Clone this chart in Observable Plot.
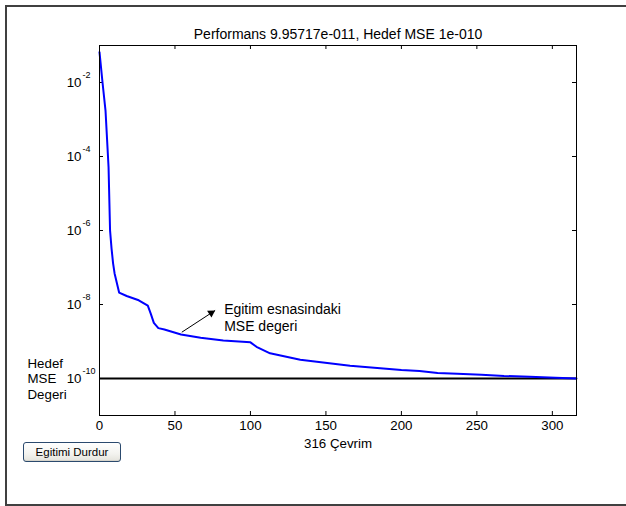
<!DOCTYPE html>
<html>
<head>
<meta charset="utf-8">
<script src="https://cdn.jsdelivr.net/npm/d3@7"></script>
<script src="https://cdn.jsdelivr.net/npm/@observablehq/plot@0.6"></script>
<style>
  html, body { margin: 0; padding: 0; background: #fff; overflow: hidden; }
  body { width: 626px; height: 506px; position: relative;
         font-family: "Liberation Sans", Arial, sans-serif; }
  #panel { position: absolute; left: 5px; top: 5px; width: 619px; height: 497px;
           border: 2px solid #404040; border-right: none; }
  #chart { position: absolute; left: 0; top: 0; }
  #stop { position: absolute; left: 23px; top: 442px; width: 96px; height: 18px;
          border: 1px solid #2b4a6e; border-radius: 3px;
          background: linear-gradient(#ffffff, #f3f3ef 60%, #e4e3dc);
          box-shadow: inset 0 -1px 0 #d6d4cb;
          font-size: 11.5px; line-height: 18px; text-align: center; color: #000; }
</style>
</head>
<body>
<div id="panel"></div>
<div id="chart"></div>
<div id="stop">Egitimi Durdur</div>
<script>
// Training performance (MSE) per epoch
const epochs = [0, 2, 4, 6, 7, 8, 9, 10, 13, 18, 26, 32, 34, 36, 39, 43, 54, 67, 82, 100,
                104, 113, 133, 166, 186, 200, 212, 224, 237, 253, 268, 285, 302, 316];
const mse = [6.6e-2, 1.0e-2, 1.7e-3, 5.1e-5, 1.0e-6, 3.2e-7, 1.3e-7, 6.9e-8, 2.1e-8, 1.7e-8,
             1.3e-8, 9.3e-9, 5.6e-9, 3.2e-9, 2.3e-9, 2.1e-9, 1.55e-9, 1.26e-9, 1.07e-9, 9.5e-10,
             7.2e-10, 4.8e-10, 3.2e-10, 2.2e-10, 1.9e-10, 1.7e-10, 1.6e-10, 1.4e-10, 1.35e-10,
             1.26e-10, 1.17e-10, 1.12e-10, 1.05e-10, 9.95717e-11];
const goal = 1e-10;

const xTicks = [0, 50, 100, 150, 200, 250, 300];
const yTicks = [1e-2, 1e-4, 1e-6, 1e-8, 1e-10];

const goalLines = ["Hedef", "MSE", "Degeri"];
const noteLines = ["Egitim esnasindaki", "MSE degeri"];
const arrowFrom = {epoch: 54.5, mse: 1.78e-9};
const arrowTo = {epoch: 76.6, mse: 6.9e-9};

// MATLAB-style exponent: 1e-10 -> 1e-010
const mfmt = v => {
  const [m, e] = v.toExponential().split("e");
  const sign = e[0] === "-" ? "-" : "+";
  return `${m}e${sign}${e.replace(/^[+-]/, "").padStart(3, "0")}`;
};

const series = epochs.map((epoch, i) => ({epoch, mse: mse[i]}));
const lastEpoch = epochs[epochs.length - 1];
const finalPerf = mse[mse.length - 1];
const title = `Performans ${mfmt(finalPerf)}, Hedef MSE ${mfmt(goal)}`;

const W = 626, H = 506, mL = 99, mR = 50, mT = 45, mB = 91;
const fw = W - mL - mR, fh = H - mT - mB, tk = 4;

const chart = Plot.plot({
  width: W,
  height: H,
  marginLeft: mL,
  marginRight: mR,
  marginTop: mT,
  marginBottom: mB,
  style: {fontFamily: "'Liberation Sans', Arial, sans-serif", background: "transparent", color: "#000"},
  x: {domain: [0, lastEpoch], axis: null},
  y: {type: "log", domain: [1e-11, 1e-1], axis: null},
  marks: [
    // inward tick marks on all four sides
    Plot.tickX(xTicks, {insetTop: fh - tk, stroke: "#000"}),
    Plot.tickX(xTicks, {insetBottom: fh - tk, stroke: "#000"}),
    Plot.tickY(yTicks, {insetRight: fw - tk, stroke: "#000"}),
    Plot.tickY(yTicks, {insetLeft: fw - tk, stroke: "#000"}),
    // goal line
    Plot.ruleY([goal], {stroke: "#000", strokeWidth: 2}),
    // training curve
    Plot.line(series, {x: "epoch", y: "mse", stroke: "#0000ff", strokeWidth: 2}),
    Plot.frame({stroke: "#000"}),
    // x tick labels
    Plot.text(xTicks, {x: d => d, frameAnchor: "bottom", dy: 14, fontSize: 13.3, fill: "#000"}),
    // x axis label
    Plot.text([`${lastEpoch} Çevrim`], {frameAnchor: "bottom", dy: 32, fontSize: 13.3, fill: "#000"}),
    // title
    Plot.text([title], {frameAnchor: "top", dy: -16, fontSize: 14, fill: "#000"}),
    // y tick labels 10^n
    Plot.text(yTicks, {y: d => d, frameAnchor: "left", dx: -18, text: () => "10",
                       textAnchor: "end", fontSize: 13.3, fill: "#000"}),
    Plot.text(yTicks, {y: d => d, frameAnchor: "left", dx: -17, dy: -7,
                       text: d => String(Math.round(Math.log10(d))),
                       textAnchor: "start", fontSize: 9, fill: "#000"}),
    // goal label
    Plot.text([goalLines.join("\n")], {y: () => goal, frameAnchor: "left", dx: -72,
                       textAnchor: "start", lineHeight: 1.17, fontSize: 13.3, fill: "#000"}),
    // annotation arrow and text
    Plot.link([{a: arrowFrom, b: arrowTo}], {x1: d => d.a.epoch, y1: d => d.a.mse,
                       x2: d => d.b.epoch, y2: d => d.b.mse, stroke: "#000", strokeWidth: 1}),
    Plot.dot([arrowTo], {x: "epoch", y: "mse", symbol: "triangle", r: 3, fill: "#000",
                       rotate: 57, dx: -3.9, dy: 2.5}),
    Plot.text([noteLines.join("\n")], {x: arrowTo.epoch, y: arrowTo.mse, dx: 9, dy: -8.3,
                       textAnchor: "start", lineAnchor: "top", lineHeight: 1.19,
                       fontSize: 14, fill: "#000"})
  ]
});
document.getElementById("chart").append(chart);
</script>
</body>
</html>
